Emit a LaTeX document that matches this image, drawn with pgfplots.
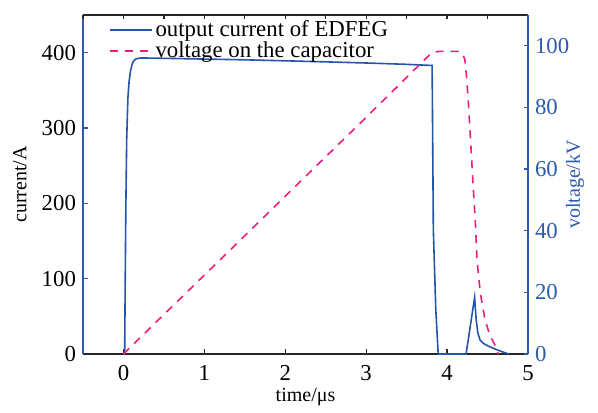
\documentclass[border=0pt]{standalone}
\usepackage{fontspec}
\setmainfont{Liberation Serif}
\setsansfont{Liberation Serif}
\usepackage{pgfplots}
\pgfplotsset{compat=1.18}
\definecolor{cblue}{RGB}{35,85,170}
\definecolor{cpink}{RGB}{235,30,125}
\definecolor{cax}{RGB}{45,90,170}
\newcommand{\fs}{\fontsize{11.4}{13}\selectfont}
\begin{document}
\begin{tikzpicture}
\pgfplotsset{
  every axis/.append style={
    scale only axis, width=222.5pt, height=169.5pt,
    xmin=-0.5, xmax=5,
    tick align=inside,
    tick label style={font=\fs\rmfamily},
    label style={font=\fs},
    major tick length=2.6pt,
    xticklabel={\pgfmathprintnumber[assume math mode=true]{\tick}},
    yticklabel={\pgfmathprintnumber[assume math mode=true]{\tick}},
  },
}
\begin{axis}[
  axis x line*=bottom, axis y line*=left,
  separate axis lines,
  x axis line style={black!85, line width=0.6pt, -},
  y axis line style={cax, line width=0.6pt, -},
  ymin=0, ymax=450,
  ytick={0,100,200,300,400},
  xtick={0,1,2,3,4,5},
  x tick style={black!85, line width=0.6pt},
  y tick style={cax, line width=0.6pt},
  xticklabel style={yshift=-2pt},
  xlabel={time/μs},
  ylabel={current/A},
  every axis x label/.style={at={(axis description cs:0.5,-0.127)}, anchor=center},
  every axis y label/.style={at={(axis description cs:-0.142,0.5)}, rotate=90, anchor=center},
]
\addplot[cblue, line width=0.8pt] coordinates {
(0.005,0) (0.015,0) (0.022,100) (0.03,200) (0.04,285) (0.055,340) (0.07,362) (0.086,375)
(0.105,384) (0.125,389) (0.16,392) (0.22,393) (0.5,392.5) (1,391.5) (1.5,390.5) (2,389.2)
(2.5,387.8) (3,386.3) (3.5,384.5) (3.815,383) (3.83,165) (3.86,60) (3.89,0) (4.235,0)
(4.34,75) (4.36,45) (4.38,28) (4.407,18.7) (4.45,14) (4.5,11) (4.59,6.7) (4.68,3) (4.765,0)
};
\end{axis}
\begin{axis}[
  axis x line*=top, axis y line*=right,
  x axis line style={black!85, line width=0.6pt, -},
  y axis line style={cax, line width=0.6pt, -},
  major tick length=2pt,
  xtick={-0.5,0,0.5,1,1.5,2,2.5,3,3.5,4,4.5,5},
  xticklabels={},
  x tick style={black!85, line width=0.6pt},
  ymin=0, ymax=110,
  ytick={0,20,40,60,80,100},
  y tick style={cax, line width=0.6pt},
  yticklabel style={cax},
  ylabel={voltage/kV},
  every axis y label/.style={at={(axis description cs:1.106,0.5)}, rotate=90, anchor=center, cax},
  legend style={at={(axis description cs:0.053,1.0)}, anchor=north west, draw=none, fill=none,
    font=\fs, inner sep=1pt, row sep=-2pt,
    nodes={inner sep=1.5pt}},
  legend cell align=left,
  legend image code/.code={\draw[#1] (0pt,0pt) -- (21pt,0pt);},
]
\addlegendimage{cblue, line width=0.8pt}
\addlegendentry{output current of EDFEG}
\addplot[cpink, line width=0.8pt, dash pattern=on 4pt off 3.5pt] coordinates {
(0,0) (1,25.6) (2,51.2) (3,76.8) (3.76,96.5) (3.82,97.8) (3.9,98.2) (4.15,98.2) (4.19,97.6)
(4.22,95.5) (4.24,90) (4.26,83) (4.29,69.4) (4.32,55.5) (4.35,42.5) (4.37,30.5) (4.41,19.8)
(4.47,11) (4.53,6) (4.59,3) (4.63,0)
};
\addlegendentry{voltage on the capacitor}
\end{axis}
\path ([xshift=-41.5pt,yshift=-27.5pt]current axis.south west) rectangle ([xshift=35pt,yshift=7.5pt]current axis.north east);
\end{tikzpicture}
\end{document}
